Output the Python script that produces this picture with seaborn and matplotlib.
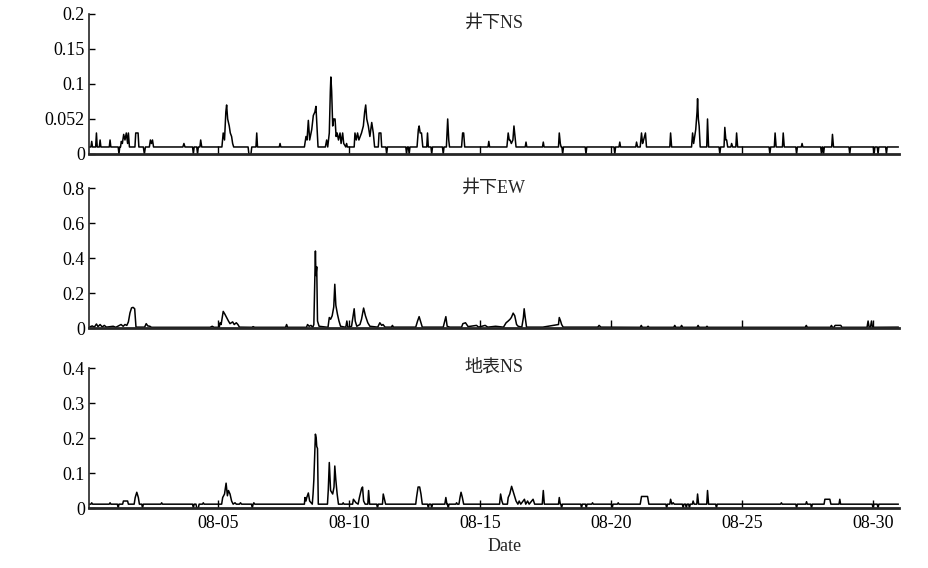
import matplotlib
matplotlib.use('Agg')
import numpy as np
import pandas as pd
import matplotlib.pyplot as plt
import matplotlib.dates as mdates
import seaborn as sns

# time in days of August (5.0 = 08-05 00:00)
ns_dn_t = [
    0.08, 0.15, 0.18, 0.21, 0.33, 0.36, 0.39, 0.47, 0.50, 0.53,
    0.85, 0.88, 0.91, 1.19, 1.22, 1.25,
    1.28, 1.31, 1.35, 1.40, 1.45, 1.50, 1.55, 1.58, 1.62,
    1.83, 1.86, 1.95, 1.98, 2.15, 2.19, 2.23,
    2.38, 2.42, 2.46, 2.50, 2.54, 3.66, 3.70, 3.74,
    4.03, 4.06, 4.09, 4.19, 4.22, 4.25, 4.31, 4.34, 4.38,
    5.15, 5.20, 5.25, 5.30, 5.33, 5.37, 5.43, 5.47, 5.52, 5.56, 5.60,
    6.15, 6.18, 6.26, 6.29, 6.45, 6.48, 6.51, 7.34, 7.37, 7.40,
    8.30, 8.36, 8.40, 8.45, 8.50, 8.58, 8.64, 8.70, 8.74, 8.78, 8.82,
    9.10, 9.15, 9.19, 9.25, 9.29, 9.31, 9.34, 9.38, 9.42, 9.47, 9.51, 9.55, 9.60, 9.66, 9.70, 9.76, 9.80, 9.88, 9.91, 9.94,
    10.20, 10.23, 10.28, 10.33, 10.38, 10.48, 10.55, 10.60, 10.64, 10.68, 10.74, 10.80, 10.87, 10.93, 10.98,
    11.12, 11.15, 11.22, 11.25, 11.41, 11.44, 11.47,
    12.17, 12.20, 12.23, 12.27, 12.30, 12.33,
    12.60, 12.65, 12.68, 12.72, 12.77, 12.82, 12.97, 13.00, 13.03,
    13.13, 13.16, 13.19, 13.57, 13.60, 13.63, 13.72, 13.77, 13.81, 13.84,
    14.30, 14.34, 14.38, 14.42, 15.31, 15.34, 15.37,
    16.03, 16.08, 16.12, 16.15, 16.20, 16.26, 16.30, 16.34, 16.38,
    16.73, 16.76, 16.79, 17.39, 17.42, 17.45,
    18.00, 18.03, 18.07, 18.10, 18.13, 18.16, 18.19, 19.02, 19.05, 19.08,
    20.12, 20.15, 20.18, 20.31, 20.34, 20.37,
    20.95, 20.98, 21.02, 21.12, 21.17, 21.21, 21.25, 21.32, 21.36,
    22.25, 22.28, 22.32,
    23.08, 23.12, 23.16, 23.24, 23.29, 23.31, 23.34, 23.37, 23.41, 23.66, 23.69, 23.73,
    24.13, 24.16, 24.19, 24.32, 24.35, 24.39, 24.42, 24.46, 24.58, 24.61, 24.65, 24.77, 24.80, 24.84,
    26.04, 26.07, 26.10, 26.24, 26.27, 26.31, 26.55, 26.58, 26.62,
    27.06, 27.09, 27.12, 27.27, 27.30, 27.33,
    28.01, 28.04, 28.07, 28.09, 28.12, 28.15, 28.43, 28.46, 28.50,
    29.09, 29.12, 29.15, 30.02, 30.05, 30.08, 30.17, 30.20, 30.23, 30.49, 30.52, 30.55, 30.98]
ns_dn_v = [
    0.01, 0.01, 0.018, 0.01, 0.01, 0.03, 0.01, 0.01, 0.02, 0.01,
    0.01, 0.02, 0.01, 0.01, 0.0, 0.01,
    0.01, 0.018, 0.015, 0.028, 0.02, 0.03, 0.015, 0.03, 0.01,
    0.01, 0.03, 0.03, 0.01, 0.01, 0.0, 0.01,
    0.01, 0.02, 0.015, 0.02, 0.01, 0.01, 0.015, 0.01,
    0.01, 0.0, 0.01, 0.01, 0.0, 0.01, 0.01, 0.02, 0.01,
    0.01, 0.03, 0.02, 0.06, 0.07, 0.05, 0.04, 0.03, 0.025, 0.015, 0.01,
    0.01, 0.0, 0.0, 0.01, 0.01, 0.03, 0.01, 0.01, 0.015, 0.01,
    0.01, 0.025, 0.02, 0.048, 0.02, 0.035, 0.055, 0.06, 0.068, 0.04, 0.01,
    0.01, 0.02, 0.01, 0.03, 0.09, 0.11, 0.09, 0.04, 0.05, 0.05, 0.025, 0.03, 0.02, 0.03, 0.015, 0.03, 0.015, 0.01, 0.015, 0.01,
    0.01, 0.03, 0.02, 0.03, 0.02, 0.03, 0.04, 0.06, 0.07, 0.05, 0.04, 0.025, 0.045, 0.03, 0.01,
    0.01, 0.03, 0.03, 0.01, 0.01, 0.0, 0.01,
    0.01, 0.0, 0.01, 0.01, 0.0, 0.01,
    0.01, 0.035, 0.04, 0.03, 0.03, 0.01, 0.01, 0.03, 0.01,
    0.01, 0.0, 0.01, 0.01, 0.0, 0.01, 0.01, 0.05, 0.02, 0.01,
    0.01, 0.03, 0.03, 0.01, 0.01, 0.018, 0.01,
    0.01, 0.03, 0.02, 0.02, 0.015, 0.02, 0.04, 0.025, 0.01,
    0.01, 0.017, 0.01, 0.01, 0.017, 0.01,
    0.01, 0.03, 0.015, 0.01, 0.01, 0.0, 0.01, 0.01, 0.0, 0.01,
    0.01, 0.0, 0.01, 0.01, 0.017, 0.01,
    0.01, 0.017, 0.01, 0.01, 0.03, 0.015, 0.02, 0.03, 0.01,
    0.01, 0.03, 0.01,
    0.01, 0.03, 0.015, 0.035, 0.06, 0.079, 0.05, 0.04, 0.01, 0.01, 0.05, 0.01,
    0.01, 0.0, 0.01, 0.01, 0.038, 0.02, 0.02, 0.01, 0.01, 0.015, 0.01, 0.01, 0.03, 0.01,
    0.01, 0.0, 0.01, 0.01, 0.03, 0.01, 0.01, 0.03, 0.01,
    0.01, 0.0, 0.01, 0.01, 0.015, 0.01,
    0.01, 0.0, 0.01, 0.01, 0.0, 0.01, 0.01, 0.028, 0.01,
    0.01, 0.0, 0.01, 0.01, 0.0, 0.01, 0.01, 0.0, 0.01, 0.01, 0.0, 0.01, 0.01]

ew_dn_t = [
    0.08, 0.20, 0.28, 0.36, 0.42, 0.50, 0.58, 0.66, 0.74, 1.00, 1.10,
    1.30, 1.38, 1.45, 1.52, 1.58, 1.64, 1.70, 1.76, 1.82, 1.87,
    2.20, 2.26, 2.32, 2.40, 2.46, 4.70, 4.78, 4.85,
    5.05, 5.08, 5.12, 5.20, 5.26, 5.33, 5.40, 5.46, 5.56, 5.62, 5.70, 5.76, 5.82,
    6.30, 6.34, 6.40, 7.58, 7.62, 7.66,
    8.38, 8.42, 8.48, 8.55, 8.62, 8.66, 8.70, 8.72, 8.74, 8.77, 8.80, 8.86,
    9.20, 9.25, 9.30, 9.36, 9.42, 9.46, 9.50, 9.56, 9.62, 9.68,
    9.88, 9.92, 9.96,
    10.10, 10.15, 10.20, 10.24, 10.30, 10.42, 10.48, 10.56, 10.63, 10.72, 10.80,
    11.10, 11.18, 11.25, 11.30, 11.38, 11.62, 11.66, 11.70,
    12.55, 12.62, 12.68, 12.75, 12.80, 13.60, 13.70, 13.75, 13.85,
    14.30, 14.35, 14.45, 14.55, 14.87, 14.95, 15.20, 15.30, 15.60, 15.90,
    16.00, 16.08, 16.15, 16.20, 16.27, 16.33, 16.40, 16.46, 16.60, 16.66, 16.69, 16.73, 16.78,
    17.40, 18.00, 18.03, 18.08, 18.12, 18.18,
    19.50, 19.55, 19.62, 21.12, 21.16, 21.20, 21.38, 21.42, 21.46,
    22.40, 22.44, 22.48, 22.66, 22.70, 22.74, 23.29, 23.33, 23.37, 23.63, 23.67, 23.71,
    27.42, 27.46, 27.50, 28.38, 28.42, 28.46, 28.52, 28.56, 28.78, 28.82,
    29.78, 29.82, 29.86, 29.91, 29.95, 29.99, 30.98]
ew_dn_v = [
    0.005, 0.012, 0.005, 0.023, 0.008, 0.02, 0.006, 0.015, 0.005, 0.01, 0.004,
    0.02, 0.01, 0.02, 0.015, 0.035, 0.086, 0.115, 0.118, 0.11, 0.005,
    0.005, 0.025, 0.012, 0.01, 0.004, 0.004, 0.01, 0.004,
    0.004, 0.03, 0.02, 0.095, 0.08, 0.06, 0.04, 0.025, 0.035, 0.02, 0.03, 0.02, 0.005,
    0.004, 0.008, 0.004, 0.004, 0.02, 0.004,
    0.004, 0.02, 0.01, 0.015, 0.004, 0.02, 0.29, 0.44, 0.30, 0.35, 0.04, 0.01,
    0.004, 0.06, 0.05, 0.07, 0.12, 0.25, 0.13, 0.08, 0.04, 0.01,
    0.004, 0.04, 0.004,
    0.01, 0.06, 0.11, 0.04, 0.01, 0.02, 0.05, 0.114, 0.07, 0.03, 0.01,
    0.005, 0.03, 0.015, 0.02, 0.005, 0.005, 0.015, 0.005,
    0.005, 0.04, 0.065, 0.03, 0.005, 0.005, 0.065, 0.01, 0.005,
    0.005, 0.025, 0.03, 0.008, 0.015, 0.005, 0.015, 0.005, 0.01, 0.005,
    0.03, 0.04, 0.05, 0.06, 0.085, 0.07, 0.02, 0.01, 0.005, 0.06, 0.11, 0.06, 0.005,
    0.005, 0.02, 0.06, 0.04, 0.02, 0.005,
    0.005, 0.015, 0.005, 0.004, 0.015, 0.004, 0.004, 0.01, 0.004,
    0.004, 0.015, 0.004, 0.004, 0.015, 0.004, 0.004, 0.015, 0.004, 0.004, 0.01, 0.004,
    0.004, 0.015, 0.004, 0.004, 0.015, 0.004, 0.004, 0.015, 0.015, 0.004,
    0.004, 0.04, 0.004, 0.004, 0.04, 0.004, 0.005]

ns_sf_t = [
    0.08, 0.15, 0.18, 0.21, 0.85, 0.88, 0.91, 1.16, 1.19, 1.22,
    1.36, 1.39, 1.55, 1.58, 1.80, 1.84, 1.90, 1.96, 2.00, 2.09, 2.12, 2.15,
    2.82, 2.85, 2.88, 4.03, 4.06, 4.09, 4.16, 4.19, 4.25, 4.28, 4.41, 4.44, 4.47,
    5.14, 5.18, 5.25, 5.31, 5.36, 5.40, 5.46, 5.52, 5.58, 5.65, 5.70, 5.82, 5.86, 5.90,
    6.28, 6.31, 6.34, 6.37, 6.40,
    8.30, 8.32, 8.36, 8.39, 8.45, 8.50, 8.60, 8.63, 8.66, 8.70, 8.72, 8.75, 8.77, 8.80, 8.83,
    9.18, 9.21, 9.25, 9.30, 9.38, 9.43, 9.46, 9.50, 9.55, 9.60, 9.75, 9.78, 9.81,
    10.14, 10.17, 10.22, 10.27, 10.35, 10.40, 10.48, 10.52, 10.56, 10.62, 10.72, 10.75, 10.79,
    11.06, 11.09, 11.12, 11.28, 11.31, 11.37, 11.40,
    12.55, 12.58, 12.64, 12.70, 12.75, 12.80, 13.00, 13.03, 13.06, 13.13, 13.16, 13.19,
    13.66, 13.70, 13.74, 13.76, 13.79, 13.82, 14.08, 14.11, 14.14,
    14.20, 14.24, 14.28, 14.33, 14.38, 15.75, 15.79, 15.84, 15.88,
    16.05, 16.08, 16.14, 16.21, 16.30, 16.38, 16.45, 16.50, 16.56, 16.70, 16.75, 16.82, 16.88, 17.03, 17.09,
    17.38, 17.42, 17.46, 18.00, 18.03, 18.07, 18.09, 18.12, 18.15,
    18.85, 18.88, 18.91, 19.03, 19.06, 19.09, 19.27, 19.30, 19.33,
    20.02, 20.05, 20.08, 20.25, 20.28, 20.31,
    21.12, 21.17, 21.40, 21.45, 22.10, 22.13, 22.16, 22.25, 22.28, 22.33, 22.38, 22.42,
    22.73, 22.76, 22.79, 22.85, 22.88, 22.91, 22.97, 23.00, 23.03,
    23.11, 23.14, 23.18, 23.28, 23.31, 23.35, 23.66, 23.69, 23.73, 24.00, 24.03, 24.06,
    26.48, 26.51, 26.54, 27.06, 27.09, 27.12, 27.44, 27.47, 27.50, 27.63, 27.66, 27.69,
    28.14, 28.17, 28.36, 28.40, 28.71, 28.74, 28.77,
    29.98, 30.01, 30.04, 30.17, 30.20, 30.23, 30.98]
ns_sf_v = [
    0.011, 0.011, 0.015, 0.011, 0.011, 0.015, 0.011, 0.011, 0.0, 0.011,
    0.011, 0.02, 0.02, 0.011, 0.011, 0.03, 0.045, 0.03, 0.011, 0.011, 0.0, 0.011,
    0.011, 0.015, 0.011, 0.011, 0.0, 0.011, 0.011, 0.0, 0.0, 0.011, 0.011, 0.015, 0.011,
    0.011, 0.03, 0.04, 0.071, 0.035, 0.05, 0.04, 0.02, 0.011, 0.015, 0.011, 0.011, 0.015, 0.011,
    0.011, 0.0, 0.011, 0.015, 0.011,
    0.011, 0.03, 0.02, 0.03, 0.043, 0.02, 0.011, 0.04, 0.08, 0.17, 0.211, 0.20, 0.176, 0.17, 0.011,
    0.011, 0.05, 0.13, 0.05, 0.04, 0.06, 0.12, 0.08, 0.04, 0.011, 0.011, 0.015, 0.011,
    0.011, 0.025, 0.02, 0.015, 0.011, 0.03, 0.055, 0.06, 0.02, 0.011, 0.011, 0.05, 0.011,
    0.011, 0.0, 0.011, 0.011, 0.04, 0.02, 0.011,
    0.011, 0.03, 0.06, 0.06, 0.04, 0.011, 0.011, 0.0, 0.011, 0.011, 0.0, 0.011,
    0.011, 0.03, 0.011, 0.011, 0.0, 0.011, 0.011, 0.015, 0.011,
    0.011, 0.03, 0.045, 0.03, 0.011, 0.011, 0.04, 0.02, 0.011,
    0.011, 0.03, 0.04, 0.062, 0.04, 0.02, 0.011, 0.02, 0.011, 0.025, 0.011, 0.02, 0.011, 0.025, 0.011,
    0.011, 0.05, 0.011, 0.011, 0.03, 0.011, 0.011, 0.0, 0.011,
    0.011, 0.0, 0.011, 0.011, 0.0, 0.011, 0.011, 0.015, 0.011,
    0.011, 0.0, 0.011, 0.011, 0.015, 0.011,
    0.011, 0.033, 0.033, 0.011, 0.011, 0.0, 0.011, 0.011, 0.025, 0.011, 0.015, 0.011,
    0.011, 0.0, 0.011, 0.011, 0.0, 0.011, 0.011, 0.0, 0.011,
    0.011, 0.02, 0.011, 0.011, 0.04, 0.011, 0.011, 0.05, 0.011, 0.011, 0.0, 0.011,
    0.011, 0.015, 0.011, 0.011, 0.0, 0.011, 0.011, 0.018, 0.011, 0.011, 0.0, 0.011,
    0.011, 0.025, 0.025, 0.011, 0.011, 0.025, 0.011,
    0.011, 0.0, 0.011, 0.011, 0.0, 0.011, 0.011]

titles = ['井下NS', '井下EW', '地表NS']
ylims = [0.2, 0.8, 0.4]
yticks = [[0, 0.05, 0.1, 0.15, 0.2], [0, 0.2, 0.4, 0.6, 0.8], [0, 0.1, 0.2, 0.3, 0.4]]
yticklabels = [['0', '0.052', '0.1', '0.15', '0.2'],
               ['0', '0.2', '0.4', '0.6', '0.8'],
               ['0', '0.1', '0.2', '0.3', '0.4']]
xtick_days = [5, 10, 15, 20, 25, 30]

aug1 = pd.Timestamp('2013-08-01')
def to_date(days):
    return aug1 + pd.to_timedelta(np.asarray(days) - 1, unit='D')

sns.set_style('ticks')
plt.rcParams['font.family'] = ['Liberation Serif', 'Noto Sans CJK SC']
plt.rcParams['font.size'] = 13

fig = plt.figure(figsize=(9.29, 5.68), dpi=100)
rects = [[0.0958, 0.7289, 0.8719, 0.2465],
         [0.0958, 0.4225, 0.8719, 0.2465],
         [0.0958, 0.1056, 0.8719, 0.2465]]
series = [(ns_dn_t, ns_dn_v), (ew_dn_t, ew_dn_v), (ns_sf_t, ns_sf_v)]
title_y = [0.93, 1.0, 1.01]

for i, (t, v) in enumerate(series):
    ax = fig.add_axes(rects[i])
    df = pd.DataFrame({'date': to_date(t), 'val': v})
    sns.lineplot(data=df, x='date', y='val', ax=ax, color='black', lw=1.1,
                 estimator=None, sort=False)
    ax.set_xlim(to_date(0.076), to_date(31.0))
    ax.set_ylim(0, ylims[i])
    ax.set_yticks(yticks[i])
    ax.set_yticklabels(yticklabels[i])
    ax.set_xticks(to_date(xtick_days))
    ax.xaxis.set_major_formatter(mdates.DateFormatter('%m-%d'))
    ax.tick_params(direction='in', width=1, labelsize=13, colors='black')
    ax.tick_params(axis='y', length=4, pad=3)
    ax.tick_params(axis='x', length=5.5, pad=5)
    sns.despine(ax=ax)
    ax.spines['left'].set_linewidth(1.2)
    ax.spines['bottom'].set_linewidth(2.0)
    ax.set_ylabel('')
    if i < 2:
        ax.set_xticklabels([])
        ax.set_xlabel('')
    else:
        ax.set_xlabel('Date', fontsize=13)
        ax.xaxis.set_label_coords(0.513, -0.215)
    ax.text(0.5, title_y[i], titles[i], transform=ax.transAxes, ha='center', va='center', fontsize=13)

fig.savefig('out.png', dpi=100)
